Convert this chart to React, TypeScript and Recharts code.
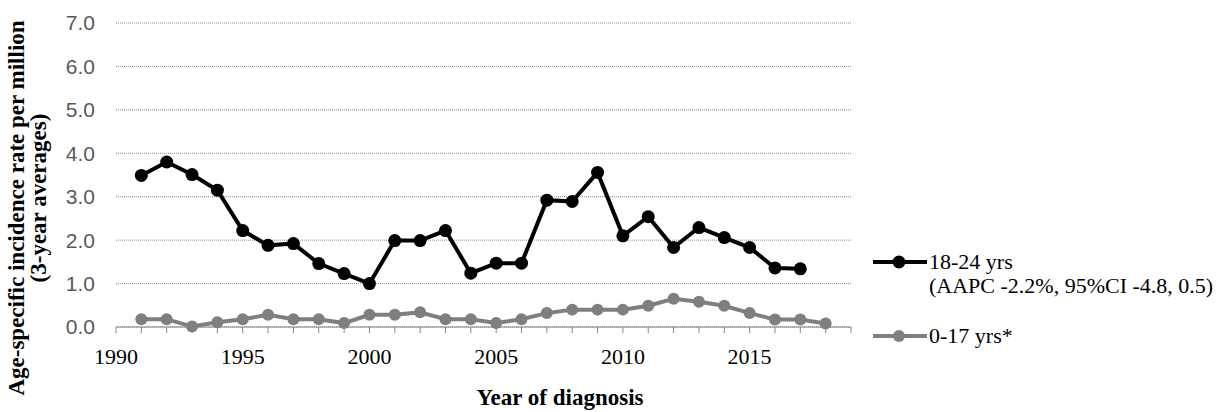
import { LineChart, Line, XAxis, YAxis, CartesianGrid, Legend } from "recharts";

// Year of diagnosis (3-year averages centred on each year)
const years = [
  1991, 1992, 1993, 1994, 1995, 1996, 1997, 1998, 1999, 2000, 2001, 2002, 2003, 2004,
  2005, 2006, 2007, 2008, 2009, 2010, 2011, 2012, 2013, 2014, 2015, 2016, 2017, 2018,
];

// 18-24 yrs, 1991-2017
const youngAdultRates = [
  3.49, 3.8, 3.51, 3.15, 2.22, 1.88, 1.92, 1.46, 1.23, 1.0, 1.99, 1.99, 2.22, 1.24,
  1.47, 1.47, 2.92, 2.89, 3.56, 2.1, 2.54, 1.83, 2.29, 2.06, 1.83, 1.36, 1.34,
];

// 0-17 yrs, 1991-2018
const childRates = [
  0.18, 0.18, 0.01, 0.11, 0.18, 0.28, 0.18, 0.18, 0.09, 0.28, 0.28, 0.34, 0.18, 0.18,
  0.09, 0.18, 0.32, 0.4, 0.4, 0.4, 0.49, 0.65, 0.58, 0.49, 0.32, 0.17, 0.17, 0.08,
];

const xTicks = [
  1990, 1991, 1992, 1993, 1994, 1995, 1996, 1997, 1998, 1999, 2000, 2001, 2002, 2003, 2004,
  2005, 2006, 2007, 2008, 2009, 2010, 2011, 2012, 2013, 2014, 2015, 2016, 2017, 2018, 2019,
];
const yTicks = [0, 1, 2, 3, 4, 5, 6, 7];

const youngAdultName = "18-24 yrs";
const youngAdultNote = "(AAPC -2.2%, 95%CI -4.8, 0.5)";
const childName = "0-17 yrs*";

const data = years.map((year, i) => ({
  year,
  youngAdult: youngAdultRates[i],
  child: childRates[i],
}));

const serif = '"Liberation Serif", "Times New Roman", serif';
const sans = '"Liberation Sans", Arial, sans-serif';
const BLACK = "#000000";
const GREY = "#7f7f7f";

const renderLegend = () => (
  <svg width={370} height={115} style={{ overflow: "visible" }}>
    <line x1={8} x2={62} y1={22} y2={22} stroke={BLACK} strokeWidth={4} />
    <circle cx={34} cy={22} r={6.5} fill={BLACK} />
    <text x={64} y={29} fontFamily={serif} fontSize={22} fill={BLACK}>
      {youngAdultName}
    </text>
    <text x={64} y={53} fontFamily={serif} fontSize={22} fill={BLACK}>
      {youngAdultNote}
    </text>
    <line x1={8} x2={62} y1={96} y2={96} stroke={GREY} strokeWidth={4} />
    <circle cx={34} cy={96} r={6} fill={GREY} />
    <text x={64} y={103} fontFamily={serif} fontSize={22} fill={BLACK}>
      {childName}
    </text>
  </svg>
);

export default function App() {
  return (
    <div style={{ width: 1232, height: 412, background: "#fff" }}>
      <style>{"body{margin:0}"}</style>
      <LineChart
        width={1232}
        height={412}
        data={data}
        margin={{ top: 23, right: 381, bottom: 0, left: 56 }}
      >
        <CartesianGrid
          vertical={false}
          stroke="#8a8a8a"
          strokeDasharray="1 1"
          strokeWidth={1}
        />
        <XAxis
          dataKey="year"
          type="number"
          domain={[1990, 2019]}
          ticks={xTicks}
          interval={0}
          height={85}
          tickFormatter={(v: number) => (v % 5 === 0 ? String(v) : "")}
          stroke="#868686"
          tickSize={6}
          tickMargin={15}
          tick={{ fill: BLACK, fontFamily: serif, fontSize: 22 }}
          label={{
            content: () => (
              <text
                x={560}
                y={405}
                textAnchor="middle"
                fontFamily={serif}
                fontSize={23}
                fontWeight="bold"
                fill={BLACK}
              >
                Year of diagnosis
              </text>
            ),
          }}
        />
        <YAxis
          domain={[0, 7]}
          ticks={yTicks}
          width={60}
          axisLine={false}
          tickLine={false}
          tickSize={0}
          tickMargin={21}
          tickFormatter={(v: number) => v.toFixed(1)}
          tick={{ fill: "#595959", fontFamily: sans, fontSize: 21 }}
          label={{
            content: () => (
              <g fontFamily={serif} fontSize={23} fontWeight="bold" fill={BLACK}>
                <text x={24} y={208} textAnchor="middle" transform="rotate(-90 24 208)">
                  Age-specific incidence rate per million
                </text>
                <text x={46} y={198} textAnchor="middle" transform="rotate(-90 46 198)">
                  (3-year averages)
                </text>
              </g>
            ),
          }}
        />
        <Legend
          layout="vertical"
          align="center"
          verticalAlign="middle"
          content={renderLegend}
          wrapperStyle={{ left: 865, top: 240, width: 370, height: 115 }}
        />
        <Line
          dataKey="youngAdult"
          name={youngAdultName}
          stroke={BLACK}
          strokeWidth={4}
          dot={{ r: 6.5, fill: BLACK, stroke: BLACK, strokeWidth: 0 }}
          isAnimationActive={false}
        />
        <Line
          dataKey="child"
          name={childName}
          stroke={GREY}
          strokeWidth={4}
          dot={{ r: 6, fill: GREY, stroke: GREY, strokeWidth: 0 }}
          isAnimationActive={false}
        />
      </LineChart>
    </div>
  );
}
